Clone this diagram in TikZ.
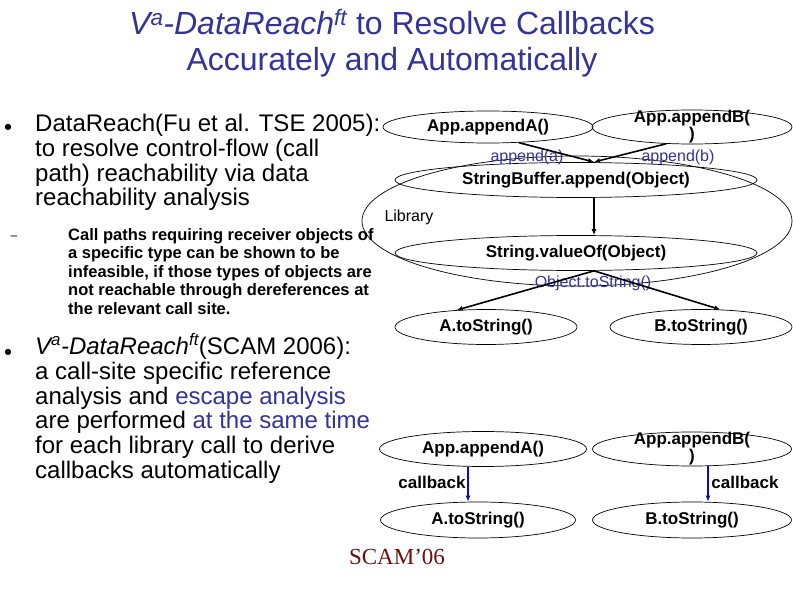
\documentclass[tikz,border=0pt]{standalone}
\usepackage{fontspec}
\setmainfont{Liberation Sans}
\newfontfamily\serifface{Liberation Serif}
\newfontfamily\dotface{DejaVu Sans}
\usepackage{xcolor}
\usetikzlibrary{arrows.meta,calc,shapes.geometric,positioning}
\definecolor{slideblue}{RGB}{51,51,153}
\definecolor{cbblue}{RGB}{10,10,200}
\definecolor{scamred}{RGB}{110,15,15}

\begin{document}
\begin{tikzpicture}[x=1pt,y=-1pt,
  fn/.style={draw,ellipse,line width=0.7pt,inner sep=0pt,font=\fontsize{17}{17}\selectfont\bfseries},
  call/.style={line width=1.6pt,-{Latex[length=6pt,width=5pt]}},
  cb/.style={cbblue,line width=1.8pt,-{Latex[length=6pt,width=5pt]}},
  edgelbl/.style={slideblue,inner sep=0pt,font=\fontsize{16}{16}\selectfont},
  cblbl/.style={inner sep=0pt,font=\fontsize{17}{17}\selectfont\bfseries},
  body/.style={anchor=north west,align=left,inner sep=0pt,font=\fontsize{24}{24.8}\selectfont},
  sub/.style={anchor=north west,align=left,inner sep=0pt,font=\fontsize{16.5}{18.6}\selectfont\bfseries},
  bullet/.style={inner sep=0pt,font=\dotface\fontsize{8}{8}\selectfont}]
  \useasboundingbox[fill=white] (0,0) rectangle (793,596);

  \node[align=center,slideblue,inner sep=0pt,font=\fontsize{32}{36}\selectfont] (title) at (392,43)
    {\textit{V\textsuperscript{a}-DataReach\textsuperscript{ft}} to Resolve Callbacks\\Accurately and Automatically};

  \node[bullet] (dot1) at (8,127) {●};
  \node[body] (p1) at (35,114) {DataReach(Fu et al. TSE 2005):\\to resolve control-flow (call\\path) reachability via data\\reachability analysis};
  \node[inner sep=0pt,font=\fontsize{12}{12}\selectfont] (dash1) at (14,238) {–};
  \node[sub] (p2) at (68,228) {Call paths requiring receiver objects of\\a specific type can be shown to be\\infeasible, if those types of objects are\\not reachable through dereferences at\\the relevant call site.};
  \node[bullet] (dot2) at (8,352) {●};
  \node[body] (p3) at (35,333) {\textit{V\textsuperscript{a}-DataReach\textsuperscript{ft}}(SCAM 2006):\\a call-site specific reference\\analysis and \textcolor{slideblue}{escape analysis}\\are performed \textcolor{slideblue}{at the same time}\\for each library call to derive\\callbacks automatically};

  \node[draw,ellipse,line width=0.7pt,minimum width=430pt,minimum height=130pt] (lib) at (577,221) {};
  \node[inner sep=0pt,font=\fontsize{16}{16}\selectfont] (libname) at (409,217) {Library};

  \node[fn,minimum width=210pt,minimum height=32pt] (appA) at (488,127) {App.appendA()};
  \node[fn,minimum width=200pt,minimum height=34pt,align=center,inner ysep=-9pt] (appB) at (692,127) {App.appendB(\\)};
  \node[fn,minimum width=362pt,minimum height=35pt] (sb) at (576,180) {StringBuffer.append(Object)};
  \node[fn,minimum width=362pt,minimum height=35pt] (sv) at (576,253) {String.valueOf(Object)};
  \node[fn,minimum width=182pt,minimum height=35pt] (at) at (486,327) {A.toString()};
  \node[fn,minimum width=182pt,minimum height=35pt] (bt) at (701,327) {B.toString()};

  \node[edgelbl] (lblA) at (527,157) {append(a)};
  \node[edgelbl] (lblB) at (678,157) {append(b)};
  \node[edgelbl] (lblO) at (593,283) {Object.toString()};

  \coordinate (join) at (594,162);
  \draw[call] (appA.-27) -- (join);
  \draw[call] (appB.213) -- (join);
  \draw[call] (sb.south -| join) -- (sv.north -| join);
  \draw[call] (sv.south -| join) -- (at.150);
  \draw[call] (sv.south -| join) -- (bt.42);

  \node[fn,minimum width=207pt,minimum height=35pt] (appA2) at (483,449) {App.appendA()};
  \node[fn,minimum width=199pt,minimum height=34pt,align=center,inner ysep=-9pt] (appB2) at (692,449) {App.appendB(\\)};
  \node[fn,minimum width=195pt,minimum height=36pt] (at2) at (478,520) {A.toString()};
  \node[fn,minimum width=199pt,minimum height=36pt] (bt2) at (692,520) {B.toString()};

  \draw[cb] ([xshift=-15pt]appA2.south) -- ([xshift=-10pt]at2.north);
  \draw[cb] ([xshift=16pt]appB2.south) -- ([xshift=16pt]bt2.north);
  \node[cblbl] (cbA) at (432,482) {callback};
  \node[cblbl] (cbB) at (745,482) {callback};

  \node[scamred,inner sep=0pt,font=\serifface\fontsize{23}{23}\selectfont] (scam) at (397,557) {SCAM’06};
\end{tikzpicture}
\end{document}
